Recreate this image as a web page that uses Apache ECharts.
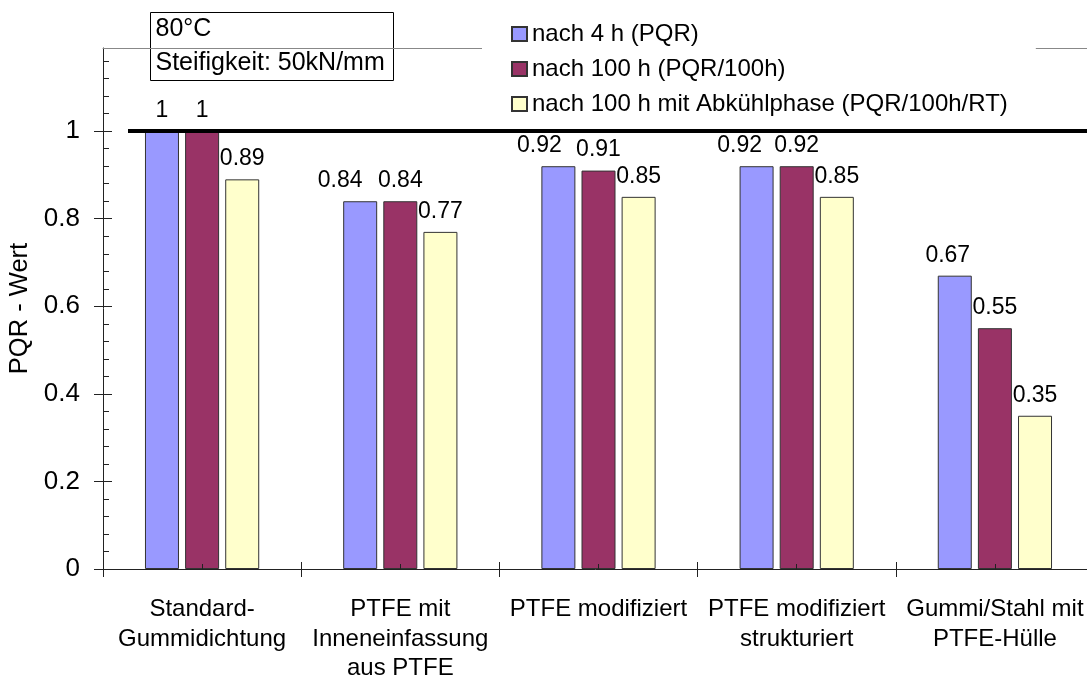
<!DOCTYPE html>
<html>
<head>
<meta charset="utf-8">
<script src="https://cdn.jsdelivr.net/npm/echarts@6/dist/echarts.min.js"></script>
<style>html,body{margin:0;padding:0;background:#fff}#c{width:1087px;height:679px}</style>
</head>
<body>
<div id="c"></div>
<script>
const categories = ['Standard-\nGummidichtung', 'PTFE mit\nInneneinfassung\naus PTFE', 'PTFE modifiziert', 'PTFE modifiziert\nstrukturiert', 'Gummi/Stahl mit\nPTFE-Hülle'];
const seriesNames = ['nach 4 h (PQR)', 'nach 100 h (PQR/100h)', 'nach 100 h mit Abkühlphase (PQR/100h/RT)'];
const after4h = [1, 0.84, 0.92, 0.92, 0.67];
const after100h = [1, 0.84, 0.91, 0.92, 0.55];
const after100hRT = [0.89, 0.77, 0.85, 0.85, 0.35];
const yMajorTicks = [0, 0.2, 0.4, 0.6, 0.8, 1];
const yMinorTicks = [0.04, 0.08, 0.12, 0.16, 0.24, 0.28, 0.32, 0.36, 0.44, 0.48, 0.52, 0.56, 0.64, 0.68, 0.72, 0.76, 0.84, 0.88, 0.92, 0.96, 1.04, 1.08, 1.12, 1.16];
const referenceValue = 1;
const infoText = '80°C\nSteifigkeit: 50kN/mm';
const yAxisTitle = 'PQR - Wert';

// label nudges (layout only)
const blueLabelShift = [0, -20, -19, -17, -7];

const FONT = "'Liberation Sans', Arial, sans-serif";
const colors = ['#9999FF', '#993366', '#FFFFCC'];
const chart = echarts.init(document.getElementById('c'), null, {renderer: 'canvas'});

function mkLabel() {
  return {show: true, position: 'top', distance: 9, color: '#000', fontSize: 23, fontFamily: FONT};
}
const valuesList = [after4h, after100h, after100hRT];
const series = valuesList.map((vals, si) => ({
  name: seriesNames[si],
  type: 'bar',
  xAxisIndex: 0, yAxisIndex: 0,
  barWidth: 34,
  barGap: '18%',
  itemStyle: {color: colors[si], borderColor: '#333', borderWidth: 1},
  label: mkLabel(),
  data: vals.map((v, i) => si === 0 ? {value: v, label: {offset: [blueLabelShift[i], 0]}} : v)
}));
series[0].markLine = {
  silent: true, symbol: 'none', animation: false,
  label: {show: false},
  lineStyle: {color: '#000', width: 4, type: 'solid'},
  data: [[{x: 128, yAxis: referenceValue}, {x: 1087, yAxis: referenceValue}]]
};

const yBase = {type: 'value', min: 0, max: 1.19, interval: 0.2, gridIndex: 0, position: 'left', offset: 0, splitLine: {show: false}};
const xBase = {type: 'category', data: categories, gridIndex: 0};

chart.setOption({
  animation: false,
  backgroundColor: '#fff',
  textStyle: {fontFamily: FONT},
  grid: {left: 103, right: -7, top: 48, bottom: 110, containLabel: false, outerBoundsMode: 'none'},
  legend: {
    orient: 'vertical', left: 482, top: 11,
    padding: [11, 28, 10, 29],
    backgroundColor: '#fff',
    itemWidth: 15, itemHeight: 14, itemGap: 11,
    icon: 'rect',
    textStyle: {fontSize: 24, lineHeight: 24, color: '#000', fontFamily: FONT},
    data: seriesNames,
    z: 20
  },
  xAxis: [
    Object.assign({}, xBase, {
      position: 'bottom',
      axisLine: {show: true, lineStyle: {color: '#222', width: 1}},
      axisTick: {show: true, inside: false, length: 8, interval: 0, lineStyle: {color: '#222'}},
      axisLabel: {interval: 0, fontSize: 24, lineHeight: 29.5, color: '#000', margin: 26, fontFamily: FONT}
    }),
    Object.assign({}, xBase, {
      position: 'bottom',
      axisLine: {show: false},
      axisTick: {show: true, inside: true, length: 7, interval: 0, lineStyle: {color: '#222'}},
      axisLabel: {show: false}
    }),
    Object.assign({}, xBase, {
      position: 'bottom', z: 10,
      axisLine: {show: false},
      axisTick: {show: true, inside: true, length: 5, interval: 0, alignWithLabel: true, lineStyle: {color: '#222'}},
      axisLabel: {show: false}
    }),
    Object.assign({}, xBase, {
      position: 'top',
      axisLine: {show: true, lineStyle: {color: '#888', width: 1}},
      axisTick: {show: false},
      axisLabel: {show: false}
    })
  ],
  yAxis: [
    Object.assign({}, yBase, {
      name: yAxisTitle, nameLocation: 'middle', nameGap: 68,
      nameTextStyle: {fontSize: 25.5, color: '#000', fontFamily: FONT},
      axisLine: {show: true, lineStyle: {color: '#222', width: 1}},
      axisTick: {show: true, inside: false, length: 9, customValues: yMajorTicks, lineStyle: {color: '#222'}},
      axisLabel: {fontSize: 26, color: '#000', margin: 23, customValues: yMajorTicks, fontFamily: FONT}
    }),
    Object.assign({}, yBase, {
      axisLine: {show: false},
      axisTick: {show: true, inside: true, length: 9, customValues: yMajorTicks, lineStyle: {color: '#222'}},
      axisLabel: {show: false}
    }),
    Object.assign({}, yBase, {
      axisLine: {show: false},
      axisTick: {show: true, inside: true, length: 6, customValues: yMinorTicks, lineStyle: {color: '#222'}},
      axisLabel: {show: false}
    })
  ],
  graphic: [{
    type: 'group', left: 150, top: 12, z: 100,
    children: [
      {type: 'rect', shape: {x: 0, y: 0, width: 243, height: 68}, style: {fill: '#fff', stroke: '#000', lineWidth: 1}},
      {type: 'text', x: 5, y: 0, style: {text: infoText, fontSize: 25, lineHeight: 34, fill: '#000', fontFamily: FONT}}
    ]
  }],
  series: series
});
</script>
</body>
</html>
